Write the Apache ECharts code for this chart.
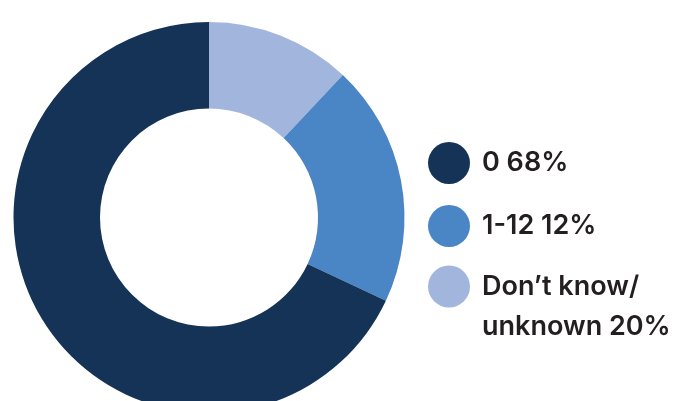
<!DOCTYPE html>
<html>
<head>
<meta charset="utf-8">
<script src="https://cdn.jsdelivr.net/npm/echarts@6/dist/echarts.min.js"></script>
<style>
  html, body { margin: 0; padding: 0; background: #fff; }
  #chart { width: 700px; height: 401px; }
</style>
</head>
<body>
<div id="chart"></div>
<script>
  // slices clockwise from 12 o'clock, as drawn
  var sliceNames = ['Don’t know/\nunknown 20%', '1-12 12%', '0 68%']
  var sliceValues = [12, 20, 68]
  var sliceColors = ['#a2b6dd', '#4a85c5', '#153356']
  // legend order, top to bottom
  var legendNames = ['0 68%', '1-12 12%', 'Don’t know/\nunknown 20%']
  var legendTops = [142, 205, 233]

  var chart = echarts.init(document.getElementById('chart'))

  var pieData = sliceNames.map(function (n, i) {
    return { name: n, value: sliceValues[i], itemStyle: { color: sliceColors[i] } }
  })

  var legends = legendNames.map(function (n, i) {
    return {
      orient: 'vertical',
      left: 428,
      top: legendTops[i],
      padding: 0,
      icon: 'circle',
      itemWidth: 42,
      itemHeight: 42,
      selectedMode: false,
      data: [n],
      formatter: function (name) {
        var lines = name.split('\n')
        // an empty first line keeps the first text line level with the dot
        if (lines.length > 1) lines.unshift('')
        return lines.map(function (l) { return '{t|' + l + '}' }).join('\n')
      },
      textStyle: {
        rich: {
          t: {
            color: '#231f20',
            fontFamily: 'Inter',
            fontWeight: 600,
            fontSize: 27,
            lineHeight: 40,
            padding: [0, 0, 0, 7]
          }
        }
      }
    }
  })

  chart.setOption({
    animation: false,
    legend: legends,
    series: [{
      type: 'pie',
      center: [209, 217.5],
      radius: [109, 195.5],
      startAngle: 90,
      clockwise: true,
      silent: true,
      label: { show: false },
      labelLine: { show: false },
      data: pieData
    }]
  })
</script>
</body>
</html>
